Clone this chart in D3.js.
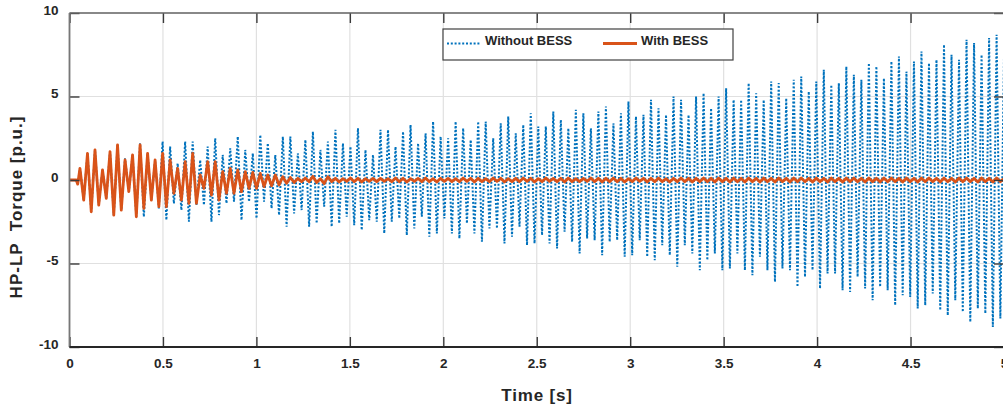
<!DOCTYPE html>
<html>
<head>
<meta charset="utf-8">
<script src="https://cdn.jsdelivr.net/npm/d3@7"></script>
<style>
  body { margin: 0; background: #fff; }
  text { font-family: "Liberation Sans", Arial, sans-serif; font-weight: bold; fill: #262626; }
</style>
</head>
<body>
<svg id="chart" width="1003" height="407"></svg>
<script>
// time of first swing peak and the swing period
let tStart = 0.056;
let period = 0.0402;
let lead = [[0, 0], [0.036, 0], [0.044, -0.25]];

// one max / min per swing, without BESS
let blueMax = [
  0.7, 1.6, 1.8, 0.6, 1.7, 2.1, 1.3, 1.5, 2.2, 1.6, 1.2, 2.3, 2.0, 1.0, 2.3, 2.3, 1.2, 2.0, 2.5, 1.5,
  1.9, 2.6, 1.8, 1.6, 2.7, 2.2, 1.5, 2.6, 2.6, 1.6, 2.4, 2.9, 1.8, 2.3, 3.0, 2.2, 2.0, 3.1, 1.8, 1.5, 3.0,
  3.0, 2.0, 2.9, 3.3, 2.2, 2.8, 3.5, 2.6, 2.5, 3.5, 3.1, 2.4, 3.5, 3.5, 2.5, 3.4, 3.8, 2.8, 3.3, 4.0, 3.2,
  3.2, 4.1, 3.6, 3.1, 4.2, 4.0, 3.1, 4.1, 4.4, 3.4, 4.0, 4.7, 3.8, 3.9, 4.8, 4.3, 3.9, 5.0, 4.8, 3.9, 5.0,
  5.2, 4.3, 5.0, 5.5, 4.8, 4.8, 5.8, 5.2, 4.8, 5.9, 5.8, 4.9, 6.0, 6.2, 5.3, 5.9, 6.6, 5.7, 5.8, 6.8, 6.3, 6.0,
  7.0, 6.8, 6.1, 7.1, 7.4, 6.5, 7.1, 7.7, 7.0, 7.2, 8.1, 7.5, 7.2, 8.4, 8.2, 7.5, 8.5, 8.7, 8.0
];
let blueMin = [
  -1.2, -1.9, -1.5, -1.1, -2.1, -1.8, -0.7, -2.2, -2.2, -1.2, -1.7, -2.4, -1.4, -1.8, -2.5, -1.5, -1.5, -2.5, -2.1, -1.4,
  -1.3, -2.4, -1.3, -2.3, -1.3, -1.7, -2.1, -2.8, -2.0, -1.8, -2.8, -2.6, -1.6, -2.8, -2.6, -2.2, -2.7, -3.0, -2.4, -2.5, -3.2,
  -2.5, -2.3, -3.3, -2.9, -2.2, -3.4, -3.2, -2.3, -3.2, -3.5, -2.6, -3.2, -3.7, -2.9, -2.9, -3.8, -3.4, -2.8, -3.9, -3.8, -3.3,
  -3.8, -4.1, -3.1, -3.7, -4.4, -3.5, -3.6, -4.5, -3.7, -3.6, -4.6, -4.5, -3.6, -4.6, -4.8, -3.9, -4.5, -5.2, -3.9, -4.4, -5.4,
  -4.8, -4.4, -5.4, -5.3, -4.4, -5.4, -5.7, -4.6, -5.4, -6.1, -5.3, -5.4, -6.4, -5.8, -5.4, -6.5, -5.6, -5.6, -6.6, -6.7, -5.8, -6.5,
  -7.2, -6.4, -6.6, -7.5, -6.9, -7.0, -7.7, -7.5, -6.8, -7.8, -8.1, -7.2, -7.9, -8.5, -7.7, -8.0, -8.8, -8.3, -8.0
];

// one max / min per swing, with BESS
let redMax = [
  0.7, 1.6, 1.8, 0.6, 1.7, 2.1, 1.2, 1.5, 2.1, 1.6, 1.2, 1.6, 1.2, 0.7, 1.1, 1.6, 0.3, 1.1, 1.1, 0.5,
  0.7, 0.6, 0.5, 0.45, 0.4, 0.3, 0.3, 0.2, 0.15, 0.1,
  0.12, 0.22, 0.08, 0.2, 0.1, 0.08, 0.12, 0.1, 0.08, 0.1,
  0.1, 0.08, 0.12, 0.1, 0.08, 0.1, 0.12, 0.08, 0.1, 0.1,
  0.08, 0.12, 0.1, 0.1, 0.08, 0.12, 0.1, 0.08, 0.1, 0.12,
  0.1, 0.08, 0.12, 0.1, 0.1, 0.12, 0.08, 0.1, 0.12, 0.1,
  0.1, 0.12, 0.1, 0.08, 0.12, 0.1, 0.1, 0.12, 0.08, 0.1,
  0.12, 0.1, 0.1, 0.12, 0.1, 0.12, 0.1, 0.12, 0.1, 0.12,
  0.1, 0.12, 0.1, 0.12, 0.1, 0.12, 0.12, 0.1, 0.12, 0.1,
  0.12, 0.1, 0.12, 0.12, 0.1, 0.12, 0.1, 0.12, 0.12, 0.1,
  0.12, 0.1, 0.12, 0.12, 0.1, 0.12, 0.1, 0.12, 0.12, 0.1, 0.12, 0.1, 0.12, 0.1
];
let redMin = [
  -1.2, -1.9, -1.5, -1.1, -2.1, -1.8, -0.7, -2.2, -1.7, -1.2, -1.6, -1.6, -0.8, -1.2, -1.4, -1.4, -0.5, -0.9, -1.2, -0.8,
  -0.8, -0.7, -0.5, -0.5, -0.4, -0.35, -0.3, -0.2, -0.15, -0.1,
  -0.1, -0.15, -0.22, -0.1, -0.12, -0.08, -0.1, -0.12, -0.08, -0.1,
  -0.08, -0.1, -0.1, -0.12, -0.08, -0.1, -0.1, -0.12, -0.08, -0.1,
  -0.1, -0.08, -0.12, -0.1, -0.1, -0.08, -0.12, -0.1, -0.1, -0.08,
  -0.12, -0.1, -0.08, -0.1, -0.12, -0.1, -0.1, -0.08, -0.1, -0.12,
  -0.1, -0.1, -0.12, -0.1, -0.08, -0.12, -0.1, -0.1, -0.12, -0.1,
  -0.1, -0.12, -0.1, -0.1, -0.12, -0.1, -0.12, -0.1, -0.12, -0.1,
  -0.12, -0.1, -0.12, -0.1, -0.12, -0.1, -0.1, -0.12, -0.1, -0.12,
  -0.1, -0.12, -0.1, -0.1, -0.12, -0.1, -0.12, -0.1, -0.1, -0.12,
  -0.1, -0.12, -0.1, -0.1, -0.12, -0.1, -0.12, -0.1, -0.1, -0.12, -0.1, -0.12, -0.1, -0.1
];

let xTicks = [0, 0.5, 1, 1.5, 2, 2.5, 3, 3.5, 4, 4.5, 5];
let yTicks = [-10, -5, 0, 5, 10];
let seriesNames = ["Without BESS", "With BESS"];
let colors = ["#0072BD", "#D95319"];

let svg = d3.select("#chart");
let pLeft = 69.5, pRight = 1004, pTop = 13, pBottom = 347;

let x = d3.scaleLinear().domain([0, 5]).range([pLeft, pRight]);
let y = d3.scaleLinear().domain([-10, 10]).range([pBottom, pTop]);

function swings(maxs, mins) {
  let pts = lead.slice();
  maxs.forEach((m, k) => {
    let t = tStart + k * period;
    pts.push([t, m]);
    pts.push([t + period / 2, mins[k]]);
  });
  return pts;
}

// grid
let grid = svg.append("g").attr("class", "grid");
grid.selectAll("line.vx")
  .data(xTicks)
  .enter()
  .append("line")
  .attr("x1", d => x(d)).attr("x2", d => x(d))
  .attr("y1", pTop).attr("y2", pBottom)
  .attr("stroke", "#e0e0e0").attr("stroke-width", 1.2);
grid.selectAll("line.hy")
  .data(yTicks)
  .enter()
  .append("line")
  .attr("x1", pLeft).attr("x2", pRight)
  .attr("y1", d => y(d)).attr("y2", d => y(d))
  .attr("stroke", "#e0e0e0").attr("stroke-width", 1.2);

svg.append("clipPath").attr("id", "plotclip")
  .append("rect")
  .attr("x", pLeft).attr("y", pTop)
  .attr("width", pRight - pLeft).attr("height", pBottom - pTop);

let line = d3.line().x(d => x(d[0])).y(d => y(d[1]));
let plot = svg.append("g").attr("clip-path", "url(#plotclip)");

plot.append("path")
  .attr("d", line(swings(blueMax, blueMin)))
  .attr("fill", "none")
  .attr("stroke", colors[0])
  .attr("stroke-width", 2)
  .attr("stroke-dasharray", "2,1.8");

plot.append("path")
  .attr("d", line(swings(redMax, redMin)))
  .attr("fill", "none")
  .attr("stroke", colors[1])
  .attr("stroke-width", 2.8)
  .attr("stroke-linejoin", "round");

// axes with inward ticks
let fmt = d => String(d);
let xAxis = svg.append("g")
  .attr("transform", `translate(0,${pBottom})`)
  .call(d3.axisBottom(x).tickValues(xTicks).tickFormat(fmt).tickSize(-10).tickPadding(11));
let xTop = svg.append("g")
  .attr("transform", `translate(0,${pTop})`)
  .call(d3.axisTop(x).tickValues(xTicks).tickFormat("").tickSize(-10));
let yAxis = svg.append("g")
  .attr("transform", `translate(${pLeft},0)`)
  .call(d3.axisLeft(y).tickValues(yTicks).tickFormat(fmt).tickSize(-10).tickPadding(11));
let yRight = svg.append("g")
  .attr("transform", `translate(${pRight},0)`)
  .call(d3.axisRight(y).tickValues(yTicks).tickFormat("").tickSize(-10));

[xAxis, xTop, yAxis, yRight].forEach(g => {
  g.select(".domain").remove();
  g.selectAll(".tick line").attr("stroke", "#3a3a3a").attr("stroke-width", 1.4);
  g.selectAll(".tick text")
    .style("font-size", "13.5px")
    .style("font-family", "'Liberation Sans', Arial, sans-serif")
    .style("font-weight", "bold")
    .attr("fill", "#262626");
});
yAxis.selectAll(".tick text").attr("dy", "0.1em");

// frame
svg.append("line").attr("x1", pLeft).attr("x2", pRight).attr("y1", pTop).attr("y2", pTop)
  .attr("stroke", "#666").attr("stroke-width", 1.6);
svg.append("line").attr("x1", pLeft).attr("x2", pLeft).attr("y1", pTop).attr("y2", pBottom)
  .attr("stroke", "#777").attr("stroke-width", 1.8);
svg.append("line").attr("x1", pRight).attr("x2", pRight).attr("y1", pTop).attr("y2", pBottom)
  .attr("stroke", "#666").attr("stroke-width", 1.6);
svg.append("line").attr("x1", pLeft).attr("x2", pRight).attr("y1", pBottom).attr("y2", pBottom)
  .attr("stroke", "#262626").attr("stroke-width", 1.8);

// labels
svg.append("text")
  .text("Time [s]")
  .attr("x", 537).attr("y", 401)
  .attr("text-anchor", "middle")
  .style("font-size", "17px")
  .style("letter-spacing", "0.8px");

svg.append("text")
  .text("HP-LP  Torque [p.u.]")
  .attr("transform", "translate(22,207) rotate(-90)")
  .attr("text-anchor", "middle")
  .style("white-space", "pre")
  .style("font-size", "17px")
  .style("letter-spacing", "1px");

// legend
let legend = svg.append("g");
legend.append("rect")
  .attr("x", 443).attr("y", 29).attr("width", 290).attr("height", 31)
  .attr("fill", "#fff").attr("stroke", "#404040").attr("stroke-width", 1.2);
let legX = [447, 603];
legend.selectAll("line.key")
  .data(seriesNames)
  .enter()
  .append("line")
  .attr("x1", (d, i) => legX[i]).attr("x2", (d, i) => legX[i] + 34)
  .attr("y1", 43.5).attr("y2", 43.5)
  .attr("stroke", (d, i) => colors[i])
  .attr("stroke-width", (d, i) => i ? 2.8 : 2)
  .attr("stroke-dasharray", (d, i) => i ? null : "2,1.8");
legend.selectAll("text.key")
  .data(seriesNames)
  .enter()
  .append("text")
  .text(d => d)
  .attr("x", (d, i) => legX[i] + 38)
  .attr("y", 45)
  .style("font-size", "13px")
  .attr("fill", "#111");
</script>
</body>
</html>
